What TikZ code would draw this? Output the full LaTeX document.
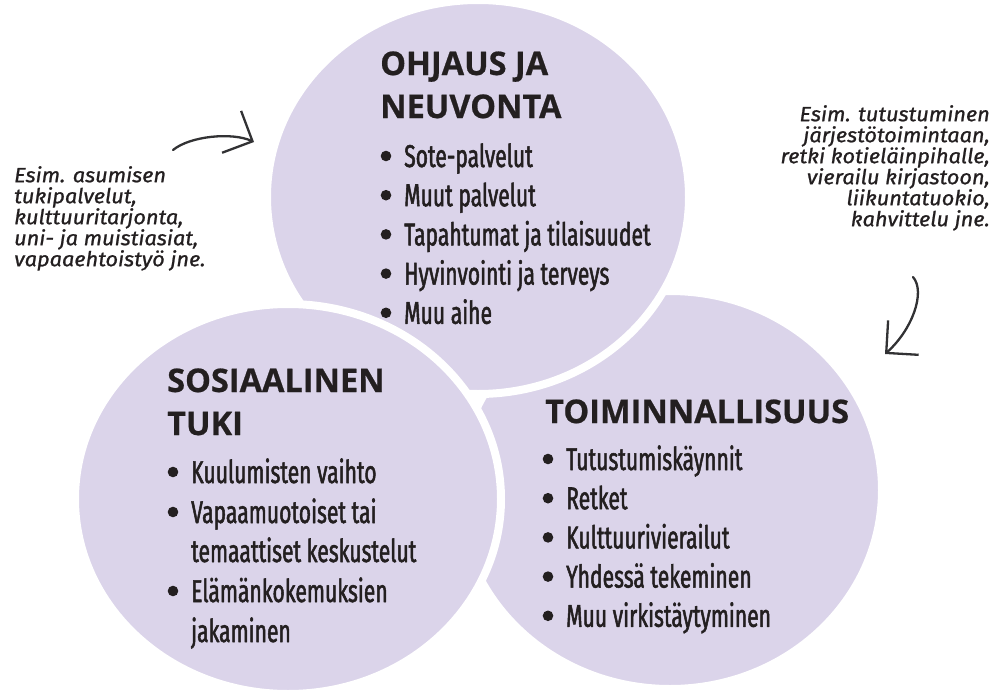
\documentclass[tikz,border=0pt]{standalone}
\usepackage{fontspec}
\usetikzlibrary{arrows.meta}

\newfontfamily\headfont[FakeBold=0.6]{Open Sans}
\newfontfamily\listfont[FakeStretch=0.67,FakeBold=1.6]{Fira Sans}
\newfontfamily\handfont[FakeStretch=1.06,FakeBold=1]{Fira Sans Italic}

\definecolor{lilac}{RGB}{219,212,234}
\definecolor{ink}{RGB}{35,31,32}
\definecolor{pen}{RGB}{50,50,52}

\begin{document}
\begin{tikzpicture}[x=1pt,y=-1pt,line cap=round,line join=round,
  >={Straight Barb[length=23pt,width=46pt]},
  bubble/.style={fill=lilac,draw=white,line width=8pt},
  head/.style={inner sep=0pt,text=ink,font=\headfont\bfseries\fontsize{32.5}{36}\selectfont,anchor=base west},
  entry/.style={inner sep=0pt,text=ink,font=\listfont\fontsize{31.5}{39}\selectfont,anchor=base west},
  hand/.style={inner sep=0pt,text=ink,font=\handfont\fontsize{20.5}{21}\selectfont},
  pen arrow/.style={draw=pen,line width=2.3pt,->}]
\useasboundingbox (0,0) rectangle (997,691);

\coordinate (c-ohj) at (478,197);
\coordinate (c-sos) at (288,499);
\coordinate (c-toi) at (670,490);

% circles, back to front
\filldraw[bubble] (c-toi) ellipse [x radius=212, y radius=199];
\filldraw[bubble] (c-ohj) ellipse [x radius=211, y radius=197];
\filldraw[bubble] (c-sos) ellipse [x radius=213, y radius=195];

% OHJAUS JA NEUVONTA
\node[head] (ohj-t1) at (380,75) {OHJAUS JA};
\node[head] (ohj-t2) at (380,118) {NEUVONTA};
\foreach \txt [count=\i from 0] in {Sote-palvelut,Muut palvelut,Tapahtumat ja tilaisuudet,Hyvinvointi ja terveys,Muu aihe}{
  \node[entry] (ohj-\i) at (404,167+39.2*\i) {\txt};
  \fill[ink] (ohj-\i.base west) ++(-18,-11) circle[radius=5.3];
}

% SOSIAALINEN TUKI
\node[head] (sos-t1) at (167,392) {SOSIAALINEN};
\node[head] (sos-t2) at (167,435) {TUKI};
\node[entry] (sos-0) at (191,483) {Kuulumisten vaihto};
\node[entry] (sos-1) at (191,523) {Vapaamuotoiset tai};
\node[entry] (sos-2) at (191,562) {temaattiset keskustelut};
\node[entry] (sos-3) at (191,602) {Elämänkokemuksien};
\node[entry] (sos-4) at (191,642) {jakaminen};
\foreach \i in {0,1,3}
  \fill[ink] (sos-\i.base west) ++(-18,-11) circle[radius=5.3];

% TOIMINNALLISUUS
\node[head] (toi-t1) at (545,423) {TOIMINNALLISUUS};
\foreach \txt [count=\i from 0] in {Tutustumiskäynnit,Retket,Kulttuurivierailut,Yhdessä tekeminen,Muu virkistäytyminen}{
  \node[entry] (toi-\i) at (566,470+39.2*\i) {\txt};
  \fill[ink] (toi-\i.base west) ++(-18,-11) circle[radius=5.3];
}

% handwritten notes
\node[hand,anchor=north west,align=left] (note-l) at (14,166)
  {Esim. asumisen\\tukipalvelut,\\kulttuuritarjonta,\\uni- ja muistiasiat,\\vapaaehtoistyö jne.};
\node[hand,anchor=north east,align=right] (note-r) at (990,105)
  {Esim. tutustuminen\\järjestötoimintaan,\\retki kotieläinpihalle,\\vierailu kirjastoon,\\liikuntatuokio,\\kahvittelu jne.};

\coordinate (arr-l1) at (173,150);
\coordinate (arr-l2) at (254,142);
\coordinate (arr-r1) at (913,277);
\coordinate (arr-r2) at (885,354);
\draw[pen arrow] (arr-l1) .. controls (190,136) and (232,132) .. (arr-l2);
\draw[pen arrow] (arr-r1) .. controls (926,292) and (912,330) .. (arr-r2);
\end{tikzpicture}
\end{document}
